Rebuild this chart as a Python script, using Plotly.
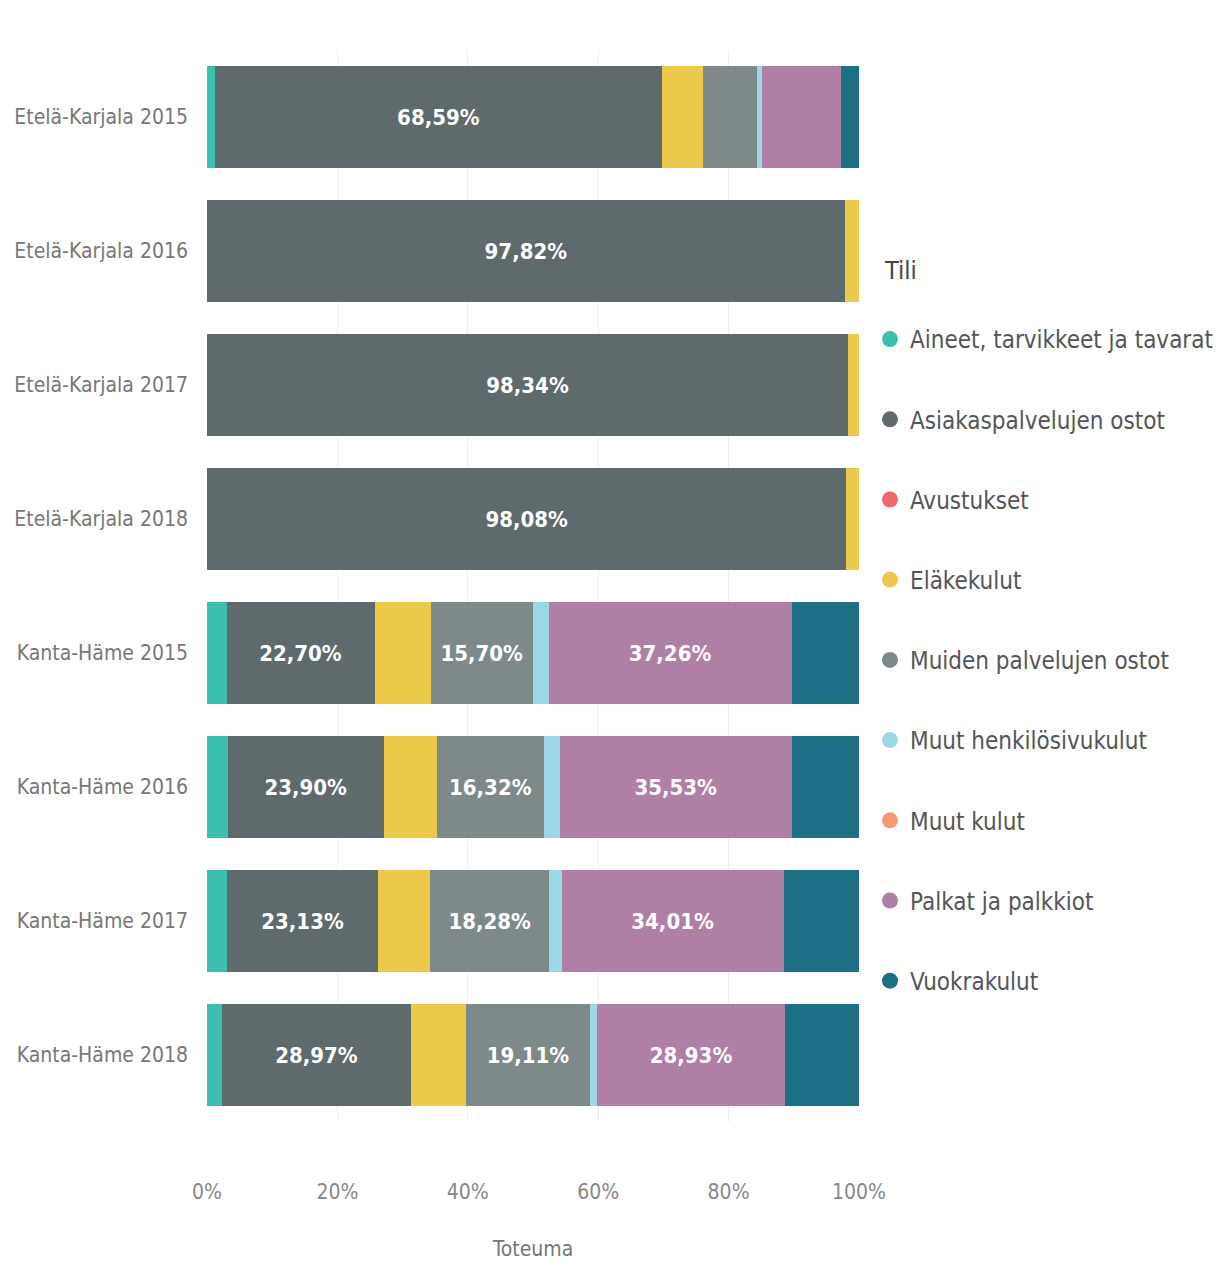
import plotly.graph_objects as go

categories = ["Etelä-Karjala 2015", "Etelä-Karjala 2016", "Etelä-Karjala 2017", "Etelä-Karjala 2018",
              "Kanta-Häme 2015", "Kanta-Häme 2016", "Kanta-Häme 2017", "Kanta-Häme 2018"]

series_names = ["Aineet, tarvikkeet ja tavarat", "Asiakaspalvelujen ostot", "Avustukset", "Eläkekulut",
                "Muiden palvelujen ostot", "Muut henkilösivukulut", "Muut kulut", "Palkat ja palkkiot",
                "Vuokrakulut"]

aineet = [1.2, 0.0, 0.0, 0.0, 3.0, 3.2, 3.1, 2.3]
asiakaspalvelut = [68.59, 97.82, 98.34, 98.08, 22.70, 23.90, 23.13, 28.97]
avustukset = [0.0, 0.0, 0.0, 0.0, 0.0, 0.0, 0.0, 0.0]
elakekulut = [6.3, 2.18, 1.66, 1.92, 8.6, 8.2, 8.0, 8.4]
muiden_palvelut = [8.2, 0.0, 0.0, 0.0, 15.70, 16.32, 18.28, 19.11]
muut_henkilosivu = [0.8, 0.0, 0.0, 0.0, 2.4, 2.5, 1.9, 1.0]
muut_kulut = [0.0, 0.0, 0.0, 0.0, 0.0, 0.0, 0.0, 0.0]
palkat = [12.11, 0.0, 0.0, 0.0, 37.26, 35.53, 34.01, 28.93]
vuokrakulut = [2.8, 0.0, 0.0, 0.0, 10.34, 10.35, 11.58, 11.3]

series_values = [aineet, asiakaspalvelut, avustukset, elakekulut, muiden_palvelut,
                 muut_henkilosivu, muut_kulut, palkat, vuokrakulut]

colors = ["#3cbfae", "#5e6a6c", "#f0696d", "#ecc94b", "#7e8a8a", "#9dd8e6", "#f59a75", "#b07fa6", "#1d6f86"]

FONT = "DejaVu Sans Condensed, Liberation Sans Narrow, Open Sans, sans-serif"

L, R, T, B = 199, 378, 42, 153
PW = 1229 - L - R
PH = 1267 - T - B

fig = go.Figure()
for i, (name, vals) in enumerate(zip(series_names, series_values)):
    texts = [("%.2f%%" % v).replace(".", ",") if v >= 15 else "" for v in vals]
    fig.add_trace(go.Bar(
        y=categories, x=vals, orientation="h", name=name,
        marker=dict(color=colors[i], line=dict(width=0)),
        text=texts, textposition="inside", insidetextanchor="middle",
        textfont=dict(color="white", size=22, family=FONT, weight="bold"),
        showlegend=False, legendgroup=name,
    ))
for i, name in enumerate(series_names):
    fig.add_trace(go.Scatter(
        x=[None], y=[None], mode="markers", name=name, legendgroup=name,
        marker=dict(color=colors[i], size=18, symbol="circle"),
        showlegend=True,
    ))

fig.update_layout(
    barmode="stack",
    bargap=0.24,
    width=1229, height=1267,
    margin=dict(l=L, r=R, t=T, b=B, autoexpand=False),
    paper_bgcolor="white", plot_bgcolor="white",
    font=dict(family=FONT, color="#777777"),
    legend=dict(
        x=(862 - L) / PW, xanchor="left", y=(T + PH - 309) / PH, yanchor="top",
        font=dict(size=24, color="#555555", family=FONT),
        tracegroupgap=46,
        itemwidth=30,
    ),
    annotations=[dict(
        text="Tili", xref="paper", yref="paper",
        x=(874 - L) / PW, xanchor="left", y=(T + PH - 262) / PH, yanchor="middle",
        showarrow=False, font=dict(size=25, color="#444444", family=FONT),
    )],
    xaxis=dict(
        range=[0, 100], tickvals=[0, 20, 40, 60, 80, 100],
        ticktext=["0%", "20%", "40%", "60%", "80%", "100%"],
        showgrid=True, gridcolor="#eeeeee", zeroline=False,
        tickfont=dict(size=21, color="#888888"),
        ticklabelstandoff=55, automargin=False,
        title=dict(text="Toteuma", font=dict(size=21, color="#777777"), standoff=38),
    ),
    yaxis=dict(
        categoryorder="array", categoryarray=categories, autorange="reversed",
        showgrid=False, tickfont=dict(size=21, color="#777777"),
        ticklabelstandoff=18, automargin=False,
    ),
)

fig.write_html("out.html")
